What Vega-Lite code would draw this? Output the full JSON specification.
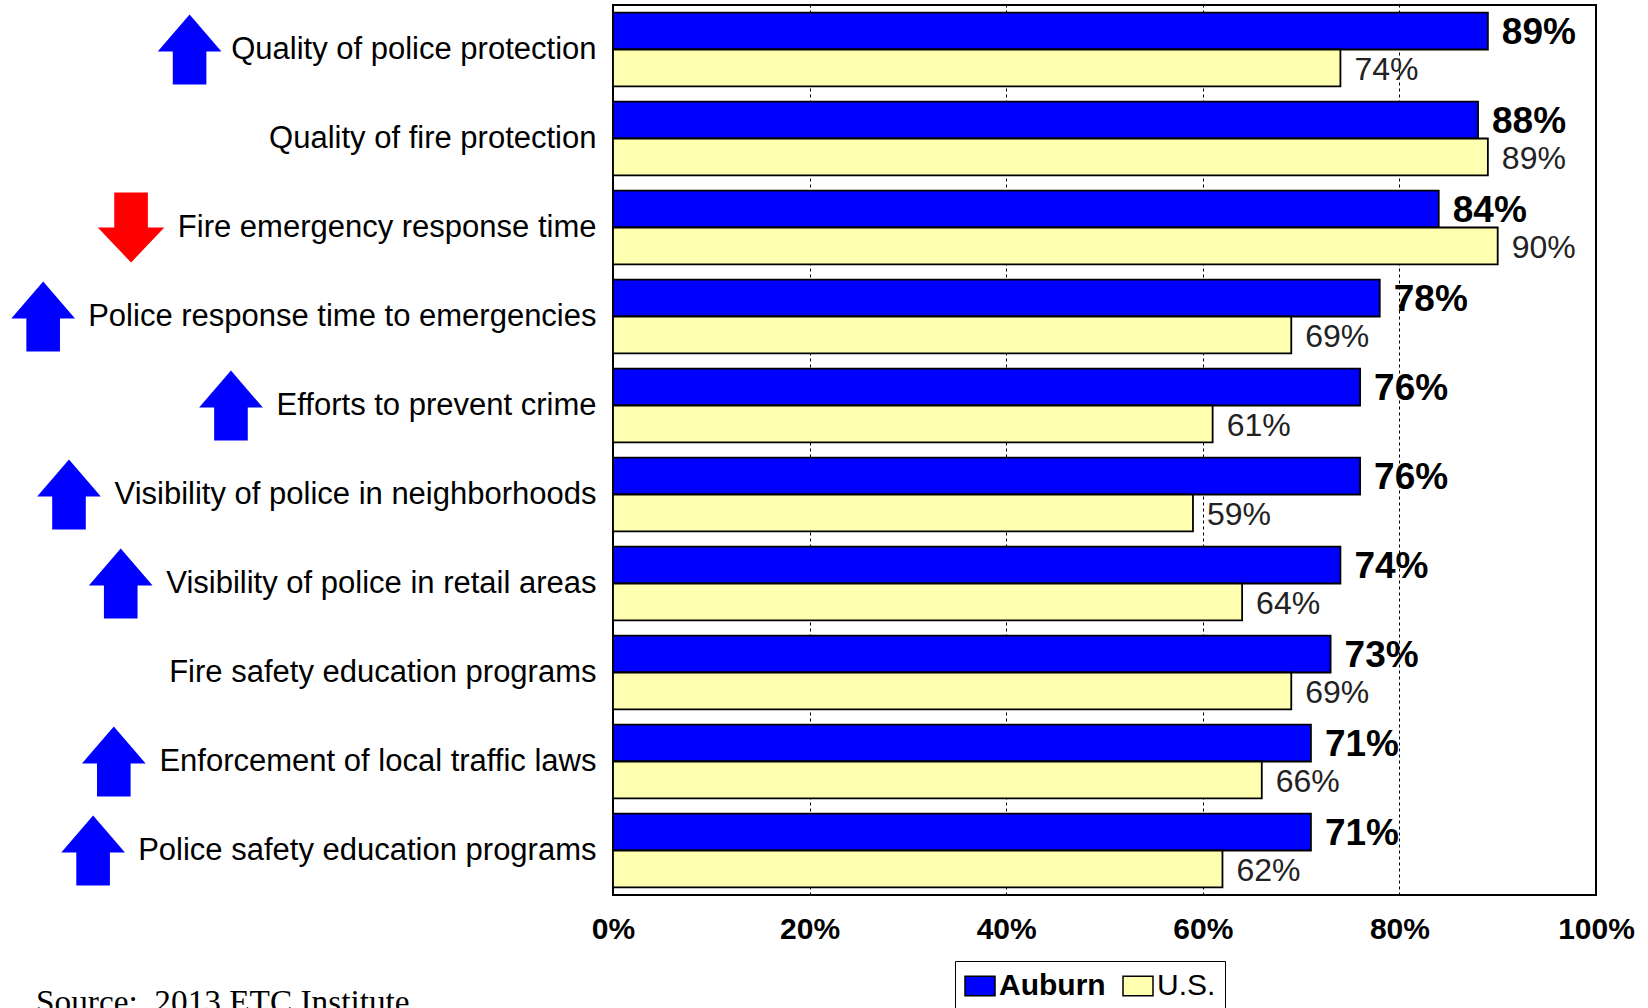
{
  "$schema": "https://vega.github.io/schema/vega-lite/v6.json",
  "autosize": {"type": "none"},
  "padding": {"left": 613, "top": 5, "right": 52, "bottom": 113},
  "width": 983,
  "height": 890,
  "background": "white",
  "config": {
    "view": {"stroke": "black", "strokeWidth": 2},
    "font": "Liberation Sans"
  },
  "title": {
    "text": "Source:\u00a0 2013 ETC Institute",
    "orient": "bottom",
    "anchor": "start",
    "frame": "group",
    "font": "Liberation Serif",
    "fontSize": 33.3,
    "fontWeight": "normal",
    "color": "black",
    "baseline": "top",
    "dx": -577,
    "offset": -24
  },
  "datasets": {
    "ratings": [
      {"label": "Quality of police protection", "series": "Auburn", "value": 89},
      {"label": "Quality of police protection", "series": "U.S.", "value": 74},
      {"label": "Quality of fire protection", "series": "Auburn", "value": 88},
      {"label": "Quality of fire protection", "series": "U.S.", "value": 89},
      {"label": "Fire emergency response time", "series": "Auburn", "value": 84},
      {"label": "Fire emergency response time", "series": "U.S.", "value": 90},
      {"label": "Police response time to emergencies", "series": "Auburn", "value": 78},
      {"label": "Police response time to emergencies", "series": "U.S.", "value": 69},
      {"label": "Efforts to prevent crime", "series": "Auburn", "value": 76},
      {"label": "Efforts to prevent crime", "series": "U.S.", "value": 61},
      {"label": "Visibility of police in neighborhoods", "series": "Auburn", "value": 76},
      {"label": "Visibility of police in neighborhoods", "series": "U.S.", "value": 59},
      {"label": "Visibility of police in retail areas", "series": "Auburn", "value": 74},
      {"label": "Visibility of police in retail areas", "series": "U.S.", "value": 64},
      {"label": "Fire safety education programs", "series": "Auburn", "value": 73},
      {"label": "Fire safety education programs", "series": "U.S.", "value": 69},
      {"label": "Enforcement of local traffic laws", "series": "Auburn", "value": 71},
      {"label": "Enforcement of local traffic laws", "series": "U.S.", "value": 66},
      {"label": "Police safety education programs", "series": "Auburn", "value": 71},
      {"label": "Police safety education programs", "series": "U.S.", "value": 62}
    ],
    "trends": [
      {"label": "Quality of police protection", "trend": "up"},
      {"label": "Fire emergency response time", "trend": "down"},
      {"label": "Police response time to emergencies", "trend": "up"},
      {"label": "Efforts to prevent crime", "trend": "up"},
      {"label": "Visibility of police in neighborhoods", "trend": "up"},
      {"label": "Visibility of police in retail areas", "trend": "up"},
      {"label": "Enforcement of local traffic laws", "trend": "up"},
      {"label": "Police safety education programs", "trend": "up"}
    ]
  },
  "encoding": {
    "y": {
      "field": "label",
      "type": "nominal",
      "scale": {
        "domain": [
          "Quality of police protection",
          "Quality of fire protection",
          "Fire emergency response time",
          "Police response time to emergencies",
          "Efforts to prevent crime",
          "Visibility of police in neighborhoods",
          "Visibility of police in retail areas",
          "Fire safety education programs",
          "Enforcement of local traffic laws",
          "Police safety education programs"
        ],
        "paddingInner": 0.17,
        "paddingOuter": 0.085
      },
      "axis": {
        "title": null,
        "ticks": false,
        "tickSize": 0,
        "domain": false,
        "labelPadding": 17,
        "labelFontSize": 31,
        "labelFont": "Liberation Sans",
        "labelColor": "black",
        "labelLimit": 0
      }
    }
  },
  "layer": [
    {
      "data": {"name": "ratings"},
      "mark": {"type": "bar", "stroke": "black", "strokeWidth": 1.8},
      "encoding": {
        "x": {
          "field": "value",
          "type": "quantitative",
          "scale": {"domain": [0, 100], "nice": false, "zero": true},
          "axis": {
            "title": null,
            "values": [0, 20, 40, 60, 80, 100],
            "labelExpr": "datum.value + '%'",
            "labelFontSize": 30,
            "labelFontWeight": "bold",
            "labelFont": "Liberation Sans",
            "labelColor": "black",
            "labelPadding": 19,
            "ticks": false,
            "tickSize": 0,
            "domain": false,
            "grid": true,
            "gridColor": "black",
            "gridDash": [3, 3],
            "gridWidth": 1,
            "labelFlush": false
          }
        },
        "yOffset": {"field": "series", "type": "nominal", "scale": {"domain": ["Auburn", "U.S."]}},
        "color": {
          "field": "series",
          "type": "nominal",
          "scale": {"domain": ["Auburn", "U.S."], "range": ["#0000FF", "#FFFFB0"]},
          "legend": {
            "title": null,
            "orient": "none",
            "legendX": 342,
            "legendY": 956,
            "direction": "horizontal",
            "strokeColor": "black",
            "padding": 9,
            "symbolType": "M-1,-0.65H1V0.65H-1Z",
            "symbolSize": 900,
            "symbolStrokeColor": "black",
            "symbolStrokeWidth": 1.5,
            "symbolOpacity": 1,
            "labelFontSize": 30,
            "labelFont": "Liberation Sans",
            "labelColor": "black",
            "labelOffset": 3,
            "columnPadding": 14,
            "labelLimit": 0,
            "encode": {
              "labels": {
                "update": {
                  "fontWeight": {"signal": "datum.value == 'Auburn' ? 'bold' : 'normal'"}
                }
              }
            }
          }
        }
      }
    },
    {
      "data": {"name": "ratings"},
      "transform": [
        {"filter": "datum.series == 'Auburn'"},
        {"calculate": "datum.value + '%'", "as": "txt"}
      ],
      "mark": {
        "type": "text",
        "align": "left",
        "baseline": "middle",
        "dx": 14,
        "dy": 2,
        "fontSize": 37,
        "fontWeight": "bold",
        "font": "Liberation Sans",
        "color": "black"
      },
      "encoding": {
        "x": {"field": "value", "type": "quantitative"},
        "yOffset": {"field": "series", "type": "nominal"},
        "text": {"field": "txt", "type": "nominal"}
      }
    },
    {
      "data": {"name": "ratings"},
      "transform": [
        {"filter": "datum.series == 'U.S.'"},
        {"calculate": "datum.value + '%'", "as": "txt"}
      ],
      "mark": {
        "type": "text",
        "align": "left",
        "baseline": "middle",
        "dx": 14,
        "dy": 2,
        "fontSize": 32,
        "fontWeight": "normal",
        "font": "Liberation Sans",
        "color": "#222222"
      },
      "encoding": {
        "x": {"field": "value", "type": "quantitative"},
        "yOffset": {"field": "series", "type": "nominal"},
        "text": {"field": "txt", "type": "nominal"}
      }
    },
    {
      "data": {"name": "trends"},
      "transform": [
        {"filter": "datum.trend == 'up'"},
        {"calculate": "0.556*length(datum.label) - 0.334*(length(split(datum.label,'i')) + length(split(datum.label,'l')) + length(split(datum.label,'j')) - 3) - 0.278*(length(split(datum.label,'t')) + length(split(datum.label,'f')) + length(split(datum.label,' ')) - 3) - 0.223*(length(split(datum.label,'r')) - 1) + 0.277*(length(split(datum.label,'m')) - 1) + 0.166*(length(split(datum.label,'w')) - 1) + 0.13 - 0.056*(length(split(datum.label,'c')) + length(split(datum.label,'s')) + length(split(datum.label,'v')) + length(split(datum.label,'y')) + length(split(datum.label,'k')) - 5)", "as": "em"},
        {"calculate": "-(datum.em*31 + 17 + 44) / 983 * 100", "as": "ax"}
      ],
      "mark": {
        "type": "point",
        "filled": true,
        "shape": "M0,-1L0.91,0.06L0.48,0.06L0.48,1L-0.48,1L-0.48,0.06L-0.91,0.06Z",
        "size": 4900,
        "color": "#0000FF",
        "opacity": 1,
        "strokeWidth": 0
      },
      "encoding": {
        "x": {"field": "ax", "type": "quantitative"}
      }
    },
    {
      "data": {"name": "trends"},
      "transform": [
        {"filter": "datum.trend == 'down'"},
        {"calculate": "0.556*length(datum.label) - 0.334*(length(split(datum.label,'i')) + length(split(datum.label,'l')) + length(split(datum.label,'j')) - 3) - 0.278*(length(split(datum.label,'t')) + length(split(datum.label,'f')) + length(split(datum.label,' ')) - 3) - 0.223*(length(split(datum.label,'r')) - 1) + 0.277*(length(split(datum.label,'m')) - 1) + 0.166*(length(split(datum.label,'w')) - 1) + 0.13 - 0.056*(length(split(datum.label,'c')) + length(split(datum.label,'s')) + length(split(datum.label,'v')) + length(split(datum.label,'y')) + length(split(datum.label,'k')) - 5)", "as": "em"},
        {"calculate": "-(datum.em*31 + 17 + 44) / 983 * 100", "as": "ax"}
      ],
      "mark": {
        "type": "point",
        "filled": true,
        "shape": "M-0.48,-1L0.48,-1L0.48,0L0.95,0L0,1L-0.95,0L-0.48,0Z",
        "size": 4900,
        "color": "#FF0000",
        "opacity": 1,
        "strokeWidth": 0
      },
      "encoding": {
        "x": {"field": "ax", "type": "quantitative"}
      }
    }
  ]
}
